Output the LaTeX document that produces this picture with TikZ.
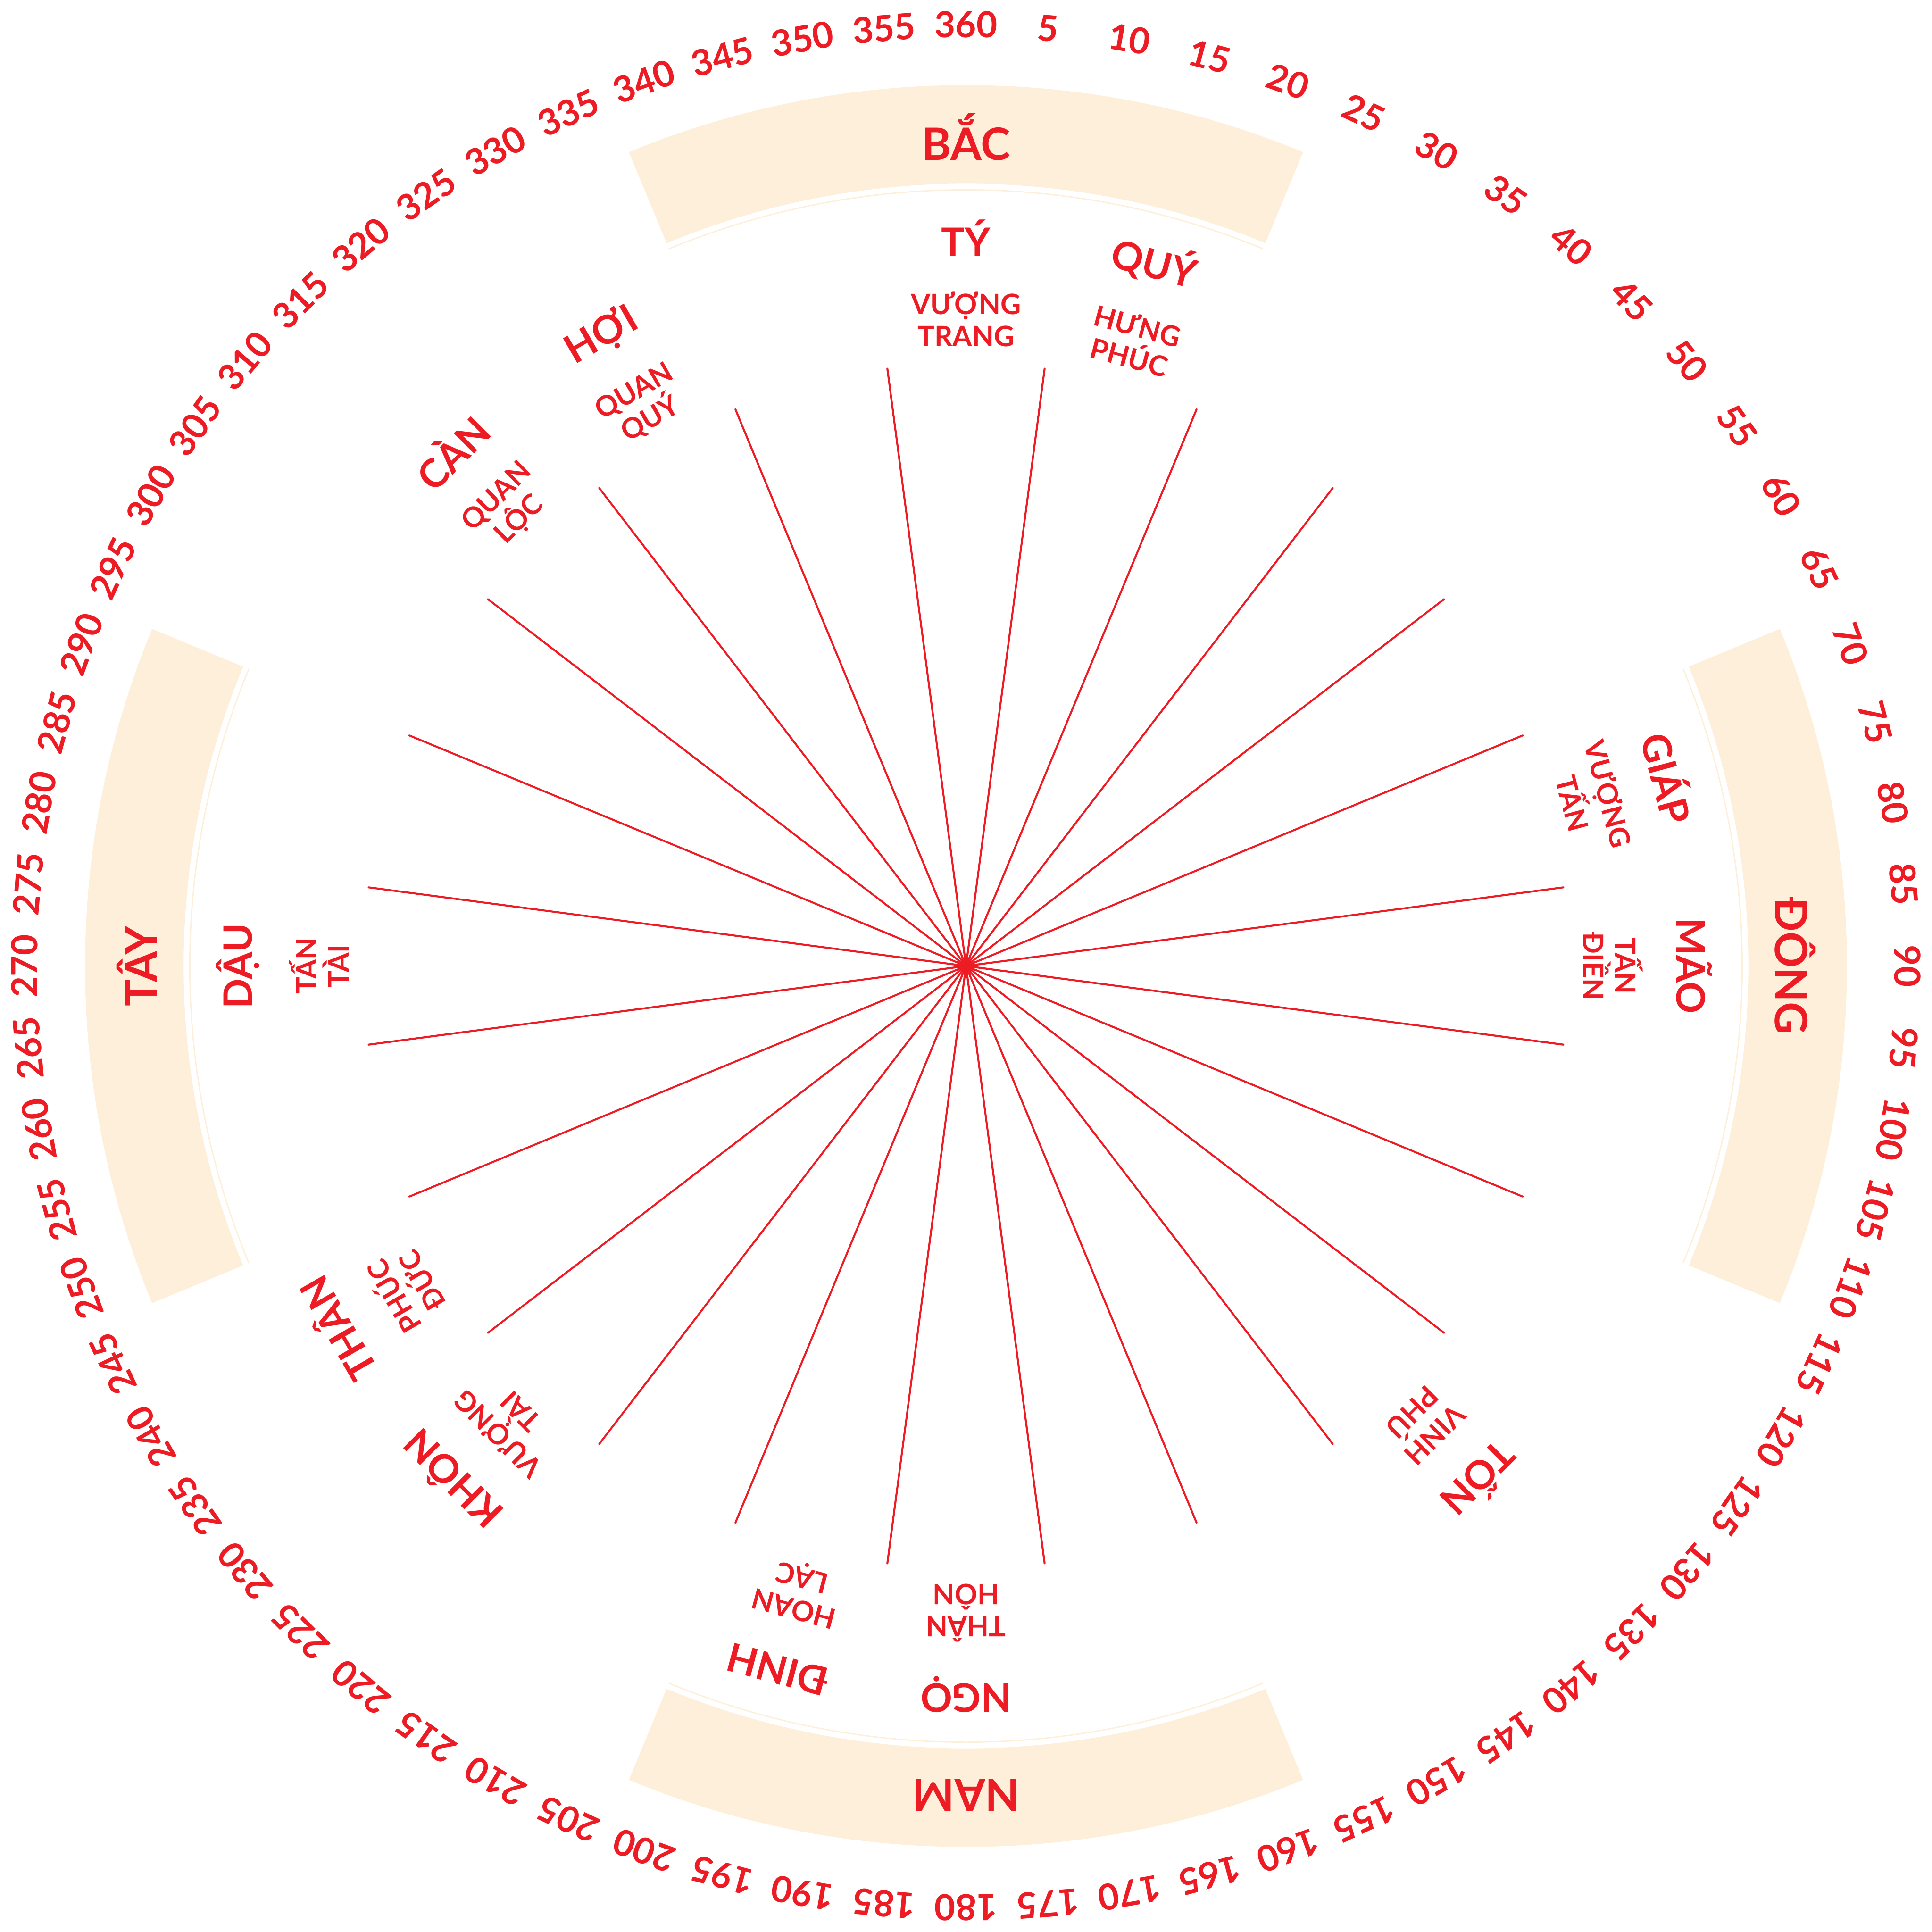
\documentclass[tikz,border=0pt]{standalone}
\usepackage{fontspec}
\setmainfont{Lato}
\usepackage{tikz}
\definecolor{compassred}{RGB}{237,28,36}
\definecolor{bandcream}{RGB}{253,239,218}

\begin{document}
\begin{tikzpicture}[
  x=0.01cm, y=0.01cm,
  band/.style={fill=bandcream},
  bandrim/.style={draw=bandcream, line width=0.3pt},
  spoke/.style={draw=compassred, line width=0.45pt, line cap=round},
  hub/.style={circle, fill=compassred, inner sep=0pt, minimum size=0.09cm},
  deg/.style={text=compassred, inner sep=0pt, font=\fontsize{8.3}{9}\selectfont\bfseries},
  dirname/.style={text=compassred, inner sep=0pt, font=\fontsize{10.3}{11}\selectfont\bfseries},
  son/.style={text=compassred, inner sep=0pt, font=\fontsize{9.1}{10}\selectfont\bfseries},
  sub/.style={text=compassred, inner sep=0pt, align=center, font=\fontsize{6.5}{7.4}\selectfont\bfseries}
]
\useasboundingbox (-784,-784) rectangle (784,784);

% four direction bands
\foreach \b/\lab in {0/BẮC, 90/ĐÔNG, 180/NAM, 270/TÂY}{
  \fill[band] ({90-\b+22.5}:635) -- ({90-\b+22.5}:715)
    arc[start angle={90-\b+22.5}, end angle={90-\b-22.5}, radius=715]
    -- ({90-\b-22.5}:635)
    arc[start angle={90-\b-22.5}, end angle={90-\b+22.5}, radius=635] -- cycle;
  \draw[bandrim] ({90-\b+22.5}:630) arc[start angle={90-\b+22.5}, end angle={90-\b-22.5}, radius=630];
  \node[dirname, rotate=-\b] (dir\b) at ({90-\b}:673) {\lab};
}

% spokes
\node[hub] (ctr) at (0,0) {};
\foreach \k in {0,...,23}{
  \coordinate (s\k) at ({82.5-15*\k}:489);
  \draw[spoke] (ctr.center) -- (s\k);
}

% mountains and their two words
\foreach \t/\nm/\wa/\wb in {0/TÝ/VƯỢNG/TRANG, 15/QUÝ/HƯNG/PHÚC, 75/GIÁP/VƯỢNG/TẤN,
    90/MÃO/TẤN/ĐIỀN, 135/TỐN/VINH/PHÚ, 180/NGỌ/THÂN/HÔN, 195/ĐINH/HOAN/LẠC,
    225/KHÔN/VƯỢNG/TÀI, 240/THÂN/PHÚC/ĐỨC, 270/DẬU/TẤN/TÀI, 315/CÀN/QUAN/LỘC,
    330/HỢI/QUAN/QUÝ}{
  \node[son, rotate=-\t] (son\t) at ({90-\t}:591) {\nm};
  \node[sub, rotate=-\t] (sub\t) at ({90-\t}:525) {\wa\\\wb};
}

% degree ring
\foreach \d in {5,10,...,360}
  \node[deg, rotate=-\d] (deg\d) at ({90-\d}:764) {\d};
\end{tikzpicture}
\end{document}
